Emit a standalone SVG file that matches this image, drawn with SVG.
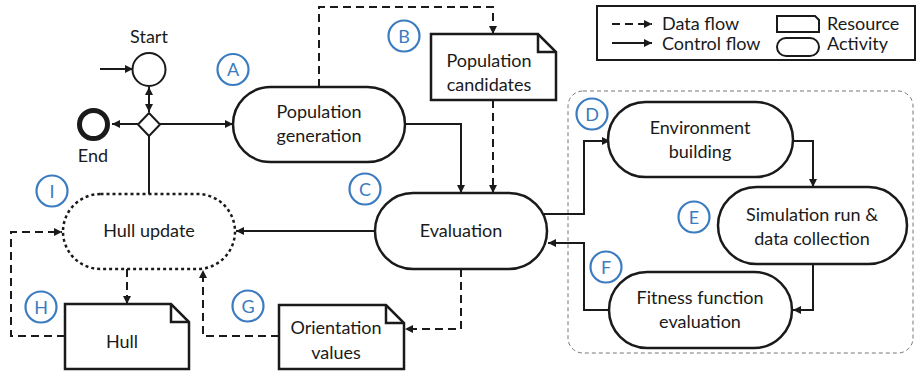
<svg xmlns="http://www.w3.org/2000/svg" width="916" height="372" viewBox="0 0 916 372">
  <defs>
    <marker id="arrow" viewBox="0 0 10 10" refX="10" refY="5" markerWidth="8" markerHeight="8" markerUnits="userSpaceOnUse" orient="auto-start-reverse">
      <path d="M0,0 L10,5 L0,10 z" fill="#1a1a1a"/>
    </marker>
    <style>
      text { font-family: Lato, "Noto Sans", "Liberation Sans", sans-serif; fill: #1a1a1a; }
      .lbl { font-size: 18px; text-anchor: middle; }
      .leg { font-size: 18px; }
      .node { fill: #fff; stroke: #1a1a1a; stroke-width: 2.5; }
      .dotted { fill: #fff; stroke: #1a1a1a; stroke-width: 2.5; stroke-dasharray: 3 3; }
      .ctrl { fill: none; stroke: #1a1a1a; stroke-width: 2; }
      .data { fill: none; stroke: #1a1a1a; stroke-width: 2; stroke-dasharray: 8 5; }
      .tag circle { fill: #fff; stroke: #3b7bc0; stroke-width: 2.2; }
      .tag text { font-size: 18px; text-anchor: middle; fill: #3b7bc0; }
    </style>
  </defs>

  <!-- grouping box around the simulation loop -->
  <rect x="568" y="91" width="345" height="262" rx="15" fill="none" stroke="#777" stroke-width="1" stroke-dasharray="4 3"/>

  <!-- legend -->
  <g id="legend">
    <rect x="597" y="6" width="318" height="54" fill="#fff" stroke="#1a1a1a" stroke-width="2"/>
    <line x1="612" y1="24" x2="652" y2="24" class="data" marker-end="url(#arrow)"/>
    <line x1="612" y1="43" x2="652" y2="43" class="ctrl" marker-end="url(#arrow)"/>
    <text x="662" y="30" class="leg">Data flow</text>
    <text x="662" y="50" class="leg">Control flow</text>
    <path d="M777,16 H815 L819,20 V32 H777 Z" fill="#fff" stroke="#1a1a1a" stroke-width="2"/>
    <rect x="777" y="38" width="42" height="18" rx="9" fill="#fff" stroke="#1a1a1a" stroke-width="2"/>
    <text x="827" y="30" class="leg">Resource</text>
    <text x="827" y="50" class="leg">Activity</text>
  </g>

  <!-- connectors -->
  <g id="connectors">
    <line x1="100" y1="69" x2="133" y2="69" class="ctrl" marker-end="url(#arrow)"/>
    <line x1="149" y1="87" x2="149" y2="112" class="ctrl" marker-start="url(#arrow)" marker-end="url(#arrow)"/>
    <line x1="138" y1="124" x2="112" y2="124" class="ctrl" marker-end="url(#arrow)"/>
    <line x1="160" y1="124" x2="233" y2="124" class="ctrl" marker-end="url(#arrow)"/>
    <line x1="149" y1="136" x2="149" y2="194" class="ctrl"/>
    <polyline points="405,124 461,124 461,193" class="ctrl" marker-end="url(#arrow)"/>
    <polyline points="319,87 319,7 493,7 493,34" class="data" marker-end="url(#arrow)"/>
    <line x1="493" y1="100" x2="493" y2="193" class="data" marker-end="url(#arrow)"/>
    <line x1="375" y1="231" x2="236" y2="231" class="ctrl" marker-end="url(#arrow)"/>
    <polyline points="461,269 461,329 405,329" class="data" marker-end="url(#arrow)"/>
    <polyline points="544,214 584,214 584,141 610,141" class="ctrl" marker-end="url(#arrow)"/>
    <polyline points="793,141 813,141 813,187" class="ctrl" marker-end="url(#arrow)"/>
    <polyline points="813,264 813,310 793,310" class="ctrl" marker-end="url(#arrow)"/>
    <polyline points="609,310 584,310 584,243 548,243" class="ctrl" marker-end="url(#arrow)"/>
    <line x1="127" y1="269" x2="127" y2="304" class="data" marker-end="url(#arrow)"/>
    <polyline points="65,336 11,336 11,232 62,232" class="data" marker-end="url(#arrow)"/>
    <polyline points="279,336 203,336 203,270" class="data" marker-end="url(#arrow)"/>
  </g>

  <!-- start / decision / end -->
  <g id="start">
    <circle cx="149" cy="69.5" r="16.5" fill="#fff" stroke="#1a1a1a" stroke-width="2"/>
    <text x="149" y="43" class="lbl">Start</text>
  </g>
  <g id="decision">
    <path d="M149,113 L160,124.5 L149,136 L138,124.5 Z" fill="#fff" stroke="#1a1a1a" stroke-width="2"/>
  </g>
  <g id="end">
    <circle cx="93.5" cy="124.5" r="14" fill="#fff" stroke="#1a1a1a" stroke-width="5"/>
    <text x="93" y="162" class="lbl">End</text>
  </g>

  <!-- activities -->
  <g id="population-generation">
    <rect x="233" y="87" width="172" height="75" rx="37.5" class="node"/>
    <text x="319" y="118" class="lbl">Population</text>
    <text x="319" y="142" class="lbl">generation</text>
  </g>
  <g id="evaluation">
    <rect x="375" y="193" width="172" height="76" rx="38" class="node"/>
    <text x="461" y="237" class="lbl">Evaluation</text>
  </g>
  <g id="hull-update">
    <rect x="63" y="194" width="172" height="75" rx="37.5" class="dotted"/>
    <text x="149" y="237" class="lbl">Hull update</text>
  </g>
  <g id="environment-building">
    <rect x="608" y="102" width="185" height="75" rx="37.5" class="node"/>
    <text x="700" y="134" class="lbl">Environment</text>
    <text x="700" y="158" class="lbl">building</text>
  </g>
  <g id="simulation-run">
    <rect x="718" y="187" width="189" height="77" rx="38.5" class="node"/>
    <text x="812" y="221" class="lbl">Simulation run &amp;</text>
    <text x="812" y="245" class="lbl">data collection</text>
  </g>
  <g id="fitness-evaluation">
    <rect x="609" y="272" width="183" height="76" rx="38" class="node"/>
    <text x="700" y="304" class="lbl">Fitness function</text>
    <text x="700" y="328" class="lbl">evaluation</text>
  </g>

  <!-- resources -->
  <g id="population-candidates">
    <path d="M431,34 H538 L556,52 V100 H431 Z" class="node"/>
    <polyline points="538,34 538,52 556,52" fill="none" stroke="#1a1a1a" stroke-width="2.5"/>
    <text x="489" y="67" class="lbl">Population</text>
    <text x="489" y="91" class="lbl">candidates</text>
  </g>
  <g id="hull">
    <path d="M65,304 H171 L189,322 V369 H65 Z" class="node"/>
    <polyline points="171,304 171,322 189,322" fill="none" stroke="#1a1a1a" stroke-width="2.5"/>
    <text x="122" y="348" class="lbl">Hull</text>
  </g>
  <g id="orientation-values">
    <path d="M279,305 H386 L404,323 V369 H279 Z" class="node"/>
    <polyline points="386,305 386,323 404,323" fill="none" stroke="#1a1a1a" stroke-width="2.5"/>
    <text x="336" y="334" class="lbl">Orientation</text>
    <text x="336" y="359" class="lbl">values</text>
  </g>

  <!-- step tags -->
  <g id="tags" class="tag">
    <g id="tag-a"><circle cx="233" cy="69.5" r="15.5"/><text x="233" y="76">A</text></g>
    <g id="tag-b"><circle cx="404" cy="36" r="15.5"/><text x="404" y="42.5">B</text></g>
    <g id="tag-c"><circle cx="365" cy="189" r="15.5"/><text x="365" y="195.5">C</text></g>
    <g id="tag-d"><circle cx="592" cy="114" r="15.5"/><text x="592" y="120.5">D</text></g>
    <g id="tag-e"><circle cx="694" cy="217" r="15.5"/><text x="694" y="223.5">E</text></g>
    <g id="tag-f"><circle cx="606" cy="267" r="15.5"/><text x="606" y="273.5">F</text></g>
    <g id="tag-g"><circle cx="248" cy="306" r="15.5"/><text x="248" y="312.5">G</text></g>
    <g id="tag-h"><circle cx="41" cy="307" r="15.5"/><text x="41" y="313.5">H</text></g>
    <g id="tag-i"><circle cx="52" cy="191" r="15.5"/><text x="52" y="197.5">I</text></g>
  </g>
</svg>
